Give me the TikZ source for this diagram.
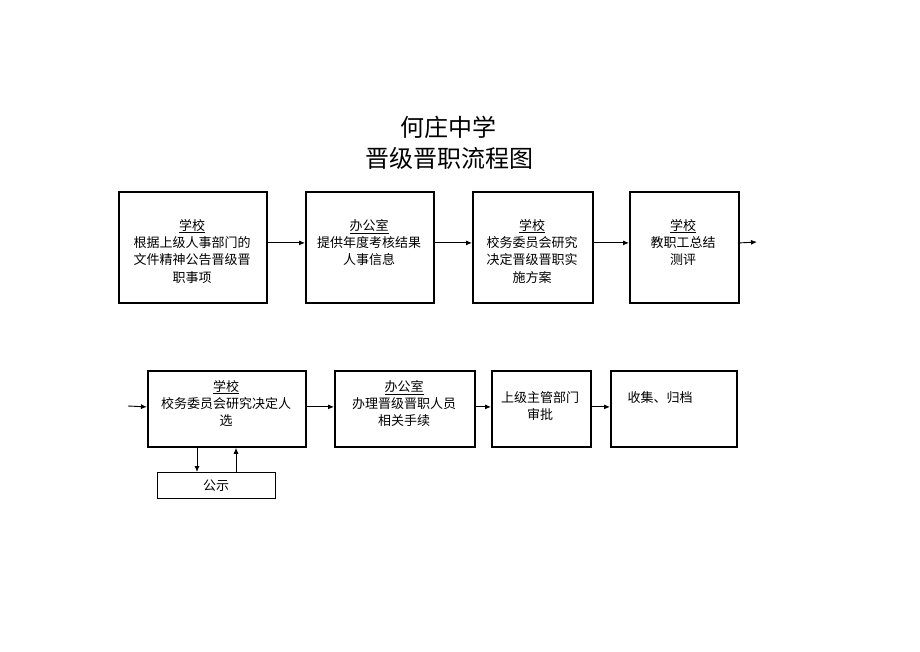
\documentclass[tikz,border=0pt]{standalone}
\usepackage{fontspec}
\newfontfamily\cjk{Noto Sans CJK SC}
\usetikzlibrary{arrows.meta}
\begin{document}
\begin{tikzpicture}[x=1pt,y=-1pt,
  box/.style={draw,line width=1.8pt,inner sep=0,minimum width=#1,anchor=north west},
  txt/.style={align=center,anchor=north,inner sep=0,font=\cjk\fontsize{13}{17.3}\selectfont},
  ttl/.style={align=center,anchor=center,inner sep=0,font=\cjk\fontsize{24}{30}\selectfont},
  arr/.style={line width=0.9pt,-{Latex[length=6pt,width=5pt]}}]
\useasboundingbox (0,0) rectangle (920,651);
% title
\node[ttl] (t1) at (448,127) {何庄中学};
\node[ttl] (t2) at (449,158) {晋级晋职流程图};
% row 1 boxes
\node[box=148pt,minimum height=111pt] (b1) at (118,191) {};
\node[box=128pt,minimum height=111pt] (b2) at (305,191) {};
\node[box=120pt,minimum height=111pt] (b3) at (472,191) {};
\node[box=109pt,minimum height=111pt] (b4) at (629,191) {};
\node[txt] (l1) at (192,219) {\underline{学校}\\根据上级人事部门的\\文件精神公告晋级晋\\职事项};
\node[txt] (l2) at (369,219) {\underline{办公室}\\提供年度考核结果\\人事信息};
\node[txt] (l3) at (532,219) {\underline{学校}\\校务委员会研究\\决定晋级晋职实\\施方案};
\node[txt] (l4) at (683,219) {\underline{学校}\\教职工总结\\测评};
\coordinate (e1) at (757,242);
\draw[arr] ([yshift=4.5pt]b1.east) -- ([yshift=4.5pt]b2.west);
\draw[arr] ([yshift=4.5pt]b2.east) -- ([yshift=4.5pt]b3.west);
\draw[arr] ([yshift=4.5pt]b3.east) -- ([yshift=4.5pt]b4.west);
\draw[arr] ([yshift=4.5pt]b4.east) -- (e1);
% row 2 boxes
\node[box=158pt,minimum height=76pt] (b5) at (147,370) {};
\node[box=140pt,minimum height=76pt] (b6) at (334,370) {};
\node[box=99pt,minimum height=76pt] (b7) at (491,370) {};
\node[box=126pt,minimum height=76pt] (b8) at (610,370) {};
\node[box=118pt,minimum height=26pt,line width=1.4pt] (b9) at (157,472) {};
\node[txt] (l5) at (226,380) {\underline{学校}\\校务委员会研究决定人\\选};
\node[txt] (l6) at (404,380) {\underline{办公室}\\办理晋级晋职人员\\相关手续};
\node[txt] (l7) at (540,391) {上级主管部门\\审批};
\node[txt] (l8) at (660,391) {收集、归档};
\node[txt] (l9) at (216,480) {公示};
\coordinate (s1) at (128,406);
\draw[arr] (s1) -- ([yshift=2pt]b5.west);
\draw[arr] ([yshift=2pt]b5.east) -- ([yshift=2pt]b6.west);
\draw[arr] ([yshift=2pt]b6.east) -- ([yshift=2pt]b7.west);
\draw[arr] ([yshift=2pt]b7.east) -- ([yshift=2pt]b8.west);
\draw[arr] (b5.south -| 197,0) -- (b9.north -| 197,0);
\draw[arr] (b9.north -| 236,0) -- (b5.south -| 236,0);
\end{tikzpicture}
\end{document}
